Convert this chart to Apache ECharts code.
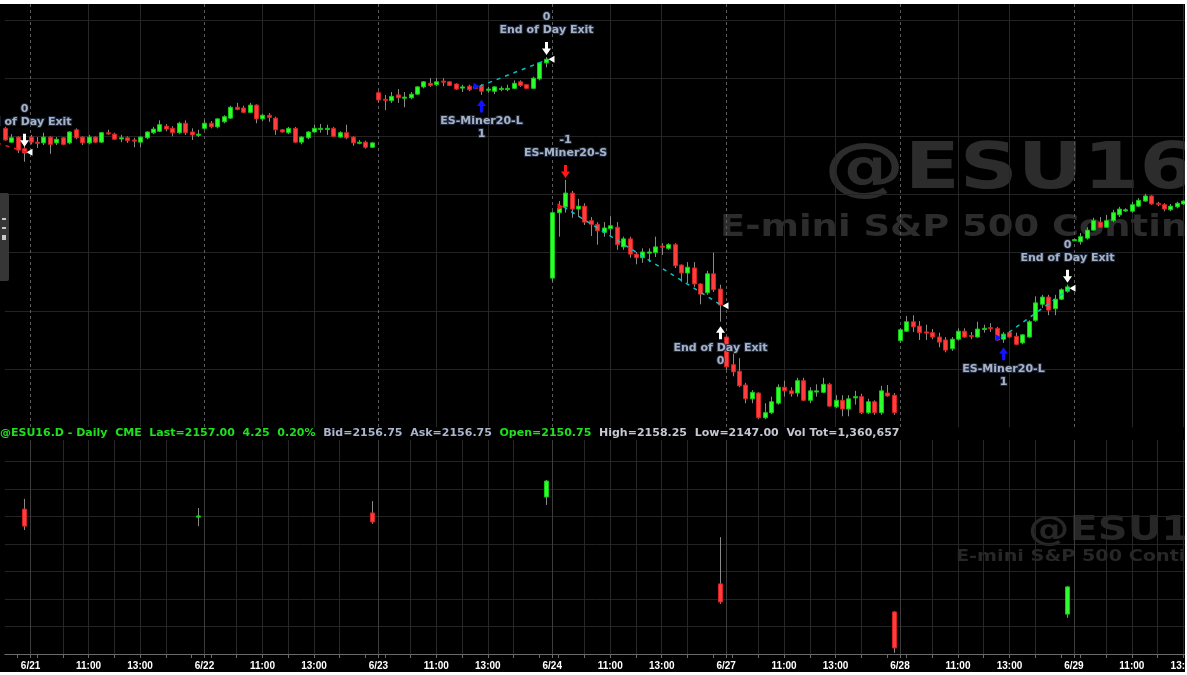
<!DOCTYPE html>
<html>
<head>
<meta charset="utf-8">
<script src="https://cdn.jsdelivr.net/npm/echarts@6/dist/echarts.min.js"></script>
<style>
html,body{margin:0;padding:0;background:#ffffff;}
#chart{width:1187px;height:675px;}
</style>
</head>
<body>
<div id="chart"></div>
<script>
// ---------- calendar / session ----------
const sessionTimes = ['8:45','9:00','9:15','9:30','9:45','10:00','10:15','10:30','10:45','11:00','11:15','11:30','11:45','12:00','12:15','12:30','12:45','13:00','13:15','13:30','13:45','14:00','14:15','14:30','14:45','15:00','15:15'];
const dayNames = ['6/20','6/21','6/22','6/23','6/24','6/27','6/28','6/29'];
const labelTimes = ['11:00','13:00'];
const tickTimes = ['9:00','10:00','11:00','12:00','13:00','14:00','15:00'];
const upperGridTimes = ['11:00','13:00'];
const lowerGridTimes = ['10:00','11:00','12:00','13:00','14:00'];

// ---------- @ESU16 15-minute bars: [open, close, low, high] ----------
const bars0620 = [
[2082.75,2078.75,2078.5,2083.25],[2078.0,2079.5,2077.75,2080.75],[2079.75,2075.25,2074.25,2080.0],[2075.75,2074.25,2071.25,2077.0]];
const bars0621 = [
[2079.75,2078.0,2077.25,2080.5],[2078.0,2077.75,2076.0,2079.75],[2077.75,2079.75,2077.0,2081.25],[2079.75,2077.25,2074.0,2080.0],
[2077.75,2079.0,2077.0,2079.75],[2079.5,2077.25,2077.0,2079.75],[2077.75,2081.5,2077.25,2081.75],[2082.25,2079.5,2079.0,2082.75],
[2079.75,2077.75,2077.0,2080.0],[2077.75,2079.75,2077.25,2080.5],[2079.75,2078.0,2077.75,2080.0],[2078.0,2081.25,2077.75,2081.5],
[2081.25,2081.0,2080.5,2082.25],[2080.75,2079.0,2078.75,2081.25],[2079.25,2079.5,2078.0,2080.5],[2079.5,2078.5,2077.75,2080.0],
[2078.75,2078.5,2076.25,2079.5],[2078.0,2079.75,2076.25,2080.0],[2079.5,2081.5,2079.0,2081.75],[2081.25,2082.5,2080.75,2083.25],
[2081.75,2084.0,2081.5,2085.5],[2083.5,2082.5,2081.75,2084.25],[2082.75,2081.25,2080.0,2083.5],[2081.25,2084.5,2080.75,2085.0],
[2084.5,2081.25,2080.5,2085.5],[2081.5,2080.5,2078.75,2082.75],[2080.5,2080.75,2079.75,2082.25]];
const bars0622 = [
[2082.75,2084.5,2082.25,2085.5],[2084.5,2083.25,2082.75,2085.25],[2083.25,2086.0,2082.75,2086.25],[2085.0,2086.75,2084.5,2087.25],
[2086.25,2090.0,2086.0,2090.5],[2090.0,2089.25,2089.0,2091.5],[2089.75,2088.25,2088.0,2090.5],[2088.25,2090.75,2088.0,2091.5],
[2090.75,2086.0,2084.5,2091.0],[2086.0,2087.25,2085.25,2087.75],[2087.25,2086.5,2085.0,2088.0],[2086.25,2082.25,2080.5,2086.75],
[2082.25,2081.5,2081.25,2082.5],[2081.25,2082.75,2080.75,2083.25],[2082.75,2078.0,2077.75,2083.25],[2078.0,2079.75,2077.25,2080.0],
[2079.5,2081.5,2079.0,2081.75],[2081.5,2082.75,2081.25,2084.0],[2082.5,2082.75,2081.25,2084.25],[2082.5,2082.75,2080.5,2084.0],
[2082.75,2080.0,2079.75,2083.25],[2079.75,2081.25,2079.5,2081.75],[2081.25,2079.5,2079.0,2084.0],[2079.75,2077.75,2076.75,2080.0],
[2077.75,2078.0,2077.25,2078.75],[2078.0,2076.25,2075.75,2078.5],[2076.25,2077.75,2076.0,2078.0]];
const bars0623 = [
[2095.0,2092.5,2091.75,2095.5],[2092.75,2092.5,2089.0,2094.25],[2092.25,2093.75,2091.5,2095.25],[2094.25,2093.25,2091.5,2096.25],
[2093.25,2093.5,2090.0,2095.25],[2093.25,2094.5,2092.75,2095.25],[2094.5,2097.0,2094.25,2097.25],[2097.0,2098.75,2096.5,2099.0],
[2098.25,2097.5,2097.0,2100.0],[2097.75,2098.75,2097.25,2100.0],[2099.0,2098.75,2097.25,2100.0],[2098.75,2097.5,2097.25,2099.0],
[2098.0,2096.25,2096.0,2098.25],[2096.75,2097.0,2095.25,2097.75],[2097.25,2096.0,2095.5,2097.75],[2097.25,2096.5,2096.25,2097.75],
[2097.25,2095.5,2094.25,2098.0],[2096.0,2096.25,2095.0,2097.0],[2095.5,2097.0,2094.5,2097.25],[2096.25,2096.5,2095.5,2097.25],
[2096.25,2096.5,2095.5,2097.75],[2096.5,2098.25,2096.25,2099.25],[2098.75,2097.5,2097.0,2099.25],[2097.75,2096.5,2096.25,2098.0],
[2096.5,2100.0,2096.25,2100.5],[2099.75,2105.25,2099.25,2105.5],[2105.25,2106.5,2103.75,2107.25]];
const bars0624 = [
[2031.25,2053.75,2030.0,2054.25],[2053.75,2055.25,2045.5,2057.75],[2055.75,2060.5,2053.75,2065.0],[2060.5,2055.0,2052.0,2061.25],
[2055.0,2056.0,2052.25,2058.5],[2056.0,2050.5,2049.5,2057.0],[2051.0,2049.75,2045.75,2052.25],[2049.75,2047.5,2042.75,2050.5],
[2047.0,2048.5,2045.5,2050.5],[2048.25,2049.25,2045.5,2052.5],[2048.75,2042.75,2041.0,2050.5],[2042.0,2044.75,2041.0,2045.5],
[2044.75,2039.5,2038.25,2045.5],[2039.5,2038.25,2036.0,2040.25],[2038.25,2040.25,2036.5,2041.5],[2040.0,2040.25,2036.75,2041.5],
[2040.0,2042.0,2038.5,2045.5],[2042.25,2042.0,2039.25,2043.25],[2041.5,2042.75,2041.0,2043.25],[2042.75,2035.5,2034.75,2043.25],
[2035.75,2033.0,2030.0,2036.0],[2033.0,2035.0,2029.5,2036.75],[2034.75,2029.25,2028.25,2036.75],[2029.25,2025.75,2022.25,2029.5],
[2026.25,2032.75,2025.5,2033.75],[2032.75,2027.25,2026.5,2040.0],[2027.5,2022.0,2016.25,2029.0]];
const bars0627 = [
[2011.0,2000.75,1999.75,2011.25],[2001.5,1999.0,1997.5,2005.5],[1999.25,1994.25,1993.75,2003.75],[1994.5,1989.75,1988.25,1995.25],
[1989.75,1992.0,1988.25,1992.75],[1991.75,1983.25,1982.75,1992.0],[1983.25,1985.0,1982.75,1988.25],[1985.0,1988.75,1984.5,1990.5],
[1988.25,1993.75,1987.75,1994.75],[1993.75,1992.5,1990.5,1996.0],[1992.5,1991.5,1990.5,1993.75],[1991.75,1996.0,1990.5,1997.0],
[1996.0,1989.25,1989.0,1997.0],[1989.25,1992.5,1988.25,1993.75],[1992.25,1992.5,1990.5,1994.75],[1992.0,1994.75,1991.75,1997.0],
[1994.75,1987.25,1987.0,1995.25],[1987.0,1989.25,1986.5,1991.0],[1989.25,1986.25,1983.75,1991.0],[1986.25,1989.75,1983.75,1991.0],
[1990.25,1990.5,1987.75,1992.5],[1990.5,1985.0,1984.5,1991.5],[1985.0,1988.75,1984.5,1989.75],[1988.75,1985.0,1984.25,1989.25],
[1985.0,1992.5,1984.25,1994.25],[1991.75,1990.75,1990.5,1994.5],[1991.0,1985.0,1984.25,1991.75]];
const bars0628 = [
[2009.75,2013.5,2009.0,2014.0],[2013.0,2016.25,2012.75,2018.25],[2016.25,2014.5,2012.75,2018.5],[2014.75,2012.5,2010.0,2016.5],
[2012.75,2012.5,2010.0,2015.25],[2012.5,2011.0,2010.25,2013.75],[2011.0,2009.25,2007.5,2012.5],[2010.0,2006.5,2005.75,2011.0],
[2007.0,2010.25,2006.25,2011.0],[2010.25,2013.0,2009.75,2014.0],[2013.0,2011.0,2010.75,2014.0],[2011.5,2011.25,2010.25,2012.75],
[2011.0,2013.75,2010.75,2016.25],[2013.75,2014.0,2012.5,2015.25],[2014.25,2014.0,2012.75,2015.75],[2014.0,2010.0,2009.75,2014.5],
[2010.25,2012.0,2009.0,2012.75],[2012.5,2011.0,2010.75,2013.0],[2011.25,2008.5,2008.25,2012.5],[2009.0,2011.75,2008.5,2012.0],
[2011.0,2016.25,2010.75,2016.75],[2016.75,2022.75,2016.25,2025.0],[2022.25,2024.75,2021.0,2025.5],[2024.75,2020.25,2018.5,2025.5],
[2020.75,2024.0,2018.5,2025.5],[2024.0,2027.25,2023.75,2027.75],[2026.75,2028.25,2026.25,2029.0]];
const bars0629 = [
[2044.25,2044.5,2044.0,2044.75],[2043.75,2045.5,2042.75,2046.75],[2045.0,2047.75,2044.5,2048.75],[2047.75,2051.0,2047.5,2052.0],
[2050.5,2048.75,2048.5,2052.25],[2048.75,2051.0,2048.5,2053.0],[2051.0,2053.75,2050.5,2054.75],[2053.0,2055.0,2052.25,2055.75],
[2054.5,2054.75,2054.0,2055.25],[2054.25,2056.5,2053.75,2057.5],[2056.0,2058.0,2055.75,2058.75],[2057.75,2059.5,2057.5,2060.25],
[2059.5,2056.75,2056.5,2059.75],[2057.0,2056.75,2056.0,2057.5],[2056.5,2055.0,2054.25,2057.0],[2054.75,2056.0,2054.25,2056.75],
[2055.75,2057.0,2055.25,2057.5],[2056.75,2057.75,2056.5,2058.0]];
const intradayBars = [bars0620, bars0621, bars0622, bars0623, bars0624, bars0627, bars0628, bars0629];

// ---------- @ESU16.D daily bars (lower pane): [open, close, low, high] ----------
const dailyDates = ['6/20','6/21','6/22','6/23','6/24','6/27','6/28'];
const dailyBars = [
[2081.75,2066.25,2062.75,2091.0],[2075.25,2075.5,2066.25,2082.75],[2078.25,2070.0,2068.25,2089.0],
[2092.75,2107.25,2085.5,2108.25],[2013.75,1997.25,1995.5,2056.25],[1988.25,1955.5,1951.0,1989.0],
[1986.25,2011.0,1982.75,2011.75]];

// ---------- strategy signals ----------
const signalBars = [['6/20','15:15'],['6/23','12:45'],['6/23','15:15'],['6/24','9:15'],['6/24','15:15'],['6/28','12:45'],['6/28','15:15']];
const signalKinds = ['sellExit','longEntry','sellExit','shortEntry','buyExit','longEntry','sellExit'];
const signalNames = ['End of Day Exit','ES-Miner20-L','End of Day Exit','ES-Miner20-S','End of Day Exit','ES-Miner20-L','End of Day Exit'];
const signalPositions = ['0','1','0','-1','0','1','0'];
const signalPrices = [2074.5, 2097.25, 2106.5, 2055.75, 2021.75, 2010.75, 2027.75];
// trades: [entry day, entry time, entry price, exit day, exit time, exit price, result]
const trades = [
['6/20','14:15',2077.75,'6/20','15:15',2074.5,'loss'],
['6/23','12:45',2097.25,'6/23','15:15',2106.5,'win'],
['6/24','9:15',2055.75,'6/24','15:15',2021.75,'win'],
['6/28','12:45',2010.75,'6/28','15:15',2027.75,'win']];

// ---------- texts ----------
const statusParts = [['@ESU16.D - Daily','g'],['CME','g'],['Last=2157.00','g'],['4.25','g'],['0.20%','g'],
['Bid=2156.75','b'],['Ask=2156.75','b'],['Open=2150.75','g'],['High=2158.25','w'],['Low=2147.00','w'],['Vol Tot=1,360,657','w']];
const watermarkSymbol = '@ESU16';
const watermarkName = 'E-mini S&P 500 Continuous Contract';

// ---------- build categories ----------
const cats = [], slotOf = [], dayStart = [], dayFirstSlot = [], ohlcAt = [];
const candleData = [];
dayNames.forEach((d, di) => {
  const bars = intradayBars[di];
  const first = di === 0 ? sessionTimes.length - bars.length : 0;
  const last = di === dayNames.length - 1 ? bars.length : sessionTimes.length - 1;
  dayStart.push(cats.length); dayFirstSlot.push(first);
  for (let s = first; s <= last; s++) {
    const idx = cats.length;
    cats.push(d + ' ' + sessionTimes[s]); slotOf.push(s);
    const b = bars[s - first];
    ohlcAt.push(b || null);
    if (b) candleData.push([idx, b[0], b[1], b[2], b[3]]);
  }
});
function barIndex(day, time) {
  const di = dayNames.indexOf(day);
  return dayStart[di] + sessionTimes.indexOf(time) - dayFirstSlot[di];
}
const slotSet = arr => arr.map(t => sessionTimes.indexOf(t));
const labelSlots = slotSet(labelTimes), tickSlots = [0].concat(slotSet(tickTimes));
const upperSlots = slotSet(upperGridTimes), lowerSlots = slotSet(lowerGridTimes);

const dailyData = dailyDates.map((d, k) => {
  const idx = barIndex(d, sessionTimes[sessionTimes.length - 1]);
  const b = dailyBars[k];
  return [idx, b[0], b[1], b[2], b[3]];
});

const kindCodes = ['longEntry','shortEntry','sellExit','buyExit'];
const signalData = signalBars.map((sb, k) => {
  const idx = barIndex(sb[0], sb[1]);
  const code = kindCodes.indexOf(signalKinds[k]);
  const above = code === 1 || code === 2;
  const b = ohlcAt[idx];
  return [idx, signalPrices[k], above ? b[3] : b[2], code];
});
const tradeData = trades.map(t => [barIndex(t[0], t[1]), t[2], barIndex(t[3], t[4]), t[5], t[6] === 'win' ? 1 : 0]);

// ---------- renderers ----------
function renderCandle(params, api) {
  const i = api.value(0);
  const o = api.value(1), c = api.value(2), l = api.value(3), h = api.value(4);
  const po = api.coord([i, o]), pc = api.coord([i, c]), pl = api.coord([i, l]), ph = api.coord([i, h]);
  const x = Math.round(po[0]);
  const up = c >= o;
  const top = Math.min(po[1], pc[1]);
  const hgt = Math.max(Math.abs(po[1] - pc[1]), 1.2);
  return {type: 'group', children: [
    {type: 'line', shape: {x1: x + 0.5, y1: ph[1], x2: x + 0.5, y2: pl[1]}, style: {stroke: '#8a8a8a', lineWidth: 1}},
    {type: 'rect', shape: {x: x - 1.5, y: top, width: 4, height: hgt},
     style: {fill: up ? '#2cff2c' : '#ff3d3d', stroke: up ? '#12c812' : '#d42020', lineWidth: 1}}
  ]};
}
const labelFont = 'bold 11px "DejaVu Sans"';
function renderSignal(params, api) {
  const k = params.dataIndex;
  const bar = api.value(0), fill = api.value(1), ext = api.value(2), code = api.value(3);
  const pf = api.coord([bar, fill]), pe = api.coord([bar, ext]);
  const x = Math.round(pf[0]) + 0.5;
  const above = code === 1 || code === 2;
  const entry = code === 0 || code === 1;
  const color = code === 0 ? '#1212ff' : code === 1 ? '#ff1818' : '#ffffff';
  let cy = above ? pe[1] - 8.5 : pe[1] + 11;
  if (code === 2) cy = Math.max(cy, pf[1] - 12);
  const d = above ? 1 : -1;
  const arrow = [[-1.5, -6.5 * d], [1.5, -6.5 * d], [1.5, 0], [4.5, 0], [0, 6.5 * d], [-4.5, 0], [-1.5, 0]]
    .map(p => [x + p[0], cy + p[1]]);
  const tri = entry
    ? [[x - 8, pf[1] - 3.5], [x - 2, pf[1]], [x - 8, pf[1] + 3.5]]
    : [[x + 8, pf[1] - 3.5], [x + 2, pf[1]], [x + 8, pf[1] + 3.5]];
  const nameY = above ? cy - 18.5 : cy + 15;
  const posY = above ? cy - 31.5 : cy + 28;
  const txt = (t, y) => ({type: 'text', style: {text: t, x: x, y: y, align: 'center', verticalAlign: 'middle',
    font: labelFont, fill: '#a9b2c1', stroke: '#1c2840', lineWidth: 2}});
  return {type: 'group', children: [
    {type: 'polygon', shape: {points: arrow}, style: {fill: color}},
    {type: 'polygon', shape: {points: tri}, style: {fill: entry ? color : '#ffffff'}},
    txt(signalNames[k], nameY), txt(signalPositions[k], posY)
  ]};
}
function renderTrade(params, api) {
  const a = api.coord([api.value(0), api.value(1)]);
  const b = api.coord([api.value(2), api.value(3)]);
  const win = api.value(4) === 1;
  return {type: 'line', shape: {x1: a[0] - 1.5, y1: a[1], x2: b[0] + 2.5, y2: b[1]},
    style: {stroke: win ? '#00c4c4' : '#e02020', lineWidth: 1.5, lineDash: [4, 5]}};
}

// ---------- layout ----------
const slotPx = 6.44;
const plotLeft = 4.84;
const plotWidth = slotPx * (cats.length - 1);

const hiddenCat = (gridIndex, extra) => Object.assign({
  type: 'category', gridIndex: gridIndex, data: cats, boundaryGap: false,
  axisLine: {show: false}, axisTick: {show: false}, axisLabel: {show: false}
}, extra);

const chart = echarts.init(document.getElementById('chart'), null, {renderer: 'canvas'});

const statusText = statusParts.map(p => '{' + p[1] + '|' + p[0] + '}').join('  ');
const richBase = {fontSize: 11, fontWeight: 'bold', fontFamily: 'DejaVu Sans'};

const option = {
  backgroundColor: '#ffffff',
  animation: false,
  grid: [
    {left: plotLeft, top: 4, width: plotWidth, height: 423.2, outerBoundsMode: 'none', containLabel: false},
    {left: plotLeft, top: 440, width: plotWidth, height: 214, outerBoundsMode: 'none', containLabel: false}
  ],
  xAxis: [
    hiddenCat(0, {splitLine: {show: true, interval: i => upperSlots.indexOf(slotOf[i]) >= 0, lineStyle: {color: '#272727', width: 1}}}),
    hiddenCat(0, {splitLine: {show: true, interval: i => slotOf[i] === 0, lineStyle: {color: '#5c5c5c', width: 1, type: [3, 3]}}}),
    {
      type: 'category', gridIndex: 1, data: cats, boundaryGap: false,
      axisLine: {show: true, lineStyle: {color: '#6a6a6a', width: 1}},
      axisTick: {show: true, interval: i => tickSlots.indexOf(slotOf[i]) >= 0, length: 4, lineStyle: {color: '#6a6a6a'}},
      axisLabel: {
        show: true, interval: i => slotOf[i] === 0 || labelSlots.indexOf(slotOf[i]) >= 0,
        formatter: (v, i) => slotOf[i] === 0 ? v.split(' ')[0] : v.split(' ')[1],
        color: '#ffffff', fontFamily: 'Liberation Sans', fontWeight: 'bold', fontSize: 10, margin: 7, hideOverlap: false
      },
      splitLine: {show: true, interval: i => lowerSlots.indexOf(slotOf[i]) >= 0, lineStyle: {color: '#272727', width: 1}}
    },
    hiddenCat(1, {splitLine: {show: true, interval: i => slotOf[i] === 0, lineStyle: {color: '#3c3c3c', width: 1}}})
  ],
  yAxis: [
    {type: 'value', gridIndex: 0, min: 1980, max: 2125.5, interval: 20, scale: true,
     axisLine: {show: false}, axisTick: {show: false}, axisLabel: {show: false},
     splitLine: {show: true, showMinLine: false, showMaxLine: false, lineStyle: {color: '#232323'}}},
    {type: 'value', gridIndex: 1, min: 1950, max: 2144.55, interval: 25, scale: true,
     axisLine: {show: false}, axisTick: {show: false}, axisLabel: {show: false},
     splitLine: {show: true, showMinLine: false, showMaxLine: false, lineStyle: {color: '#232323'}}}
  ],
  series: [
    {type: 'custom', name: '@ESU16 15 min', xAxisIndex: 0, yAxisIndex: 0, data: candleData,
     encode: {x: 0, y: [1, 2, 3, 4]}, renderItem: renderCandle, z: 3, silent: true},
    {type: 'custom', name: 'trades', xAxisIndex: 0, yAxisIndex: 0, data: tradeData,
     encode: {x: [0, 2], y: [1, 3]}, renderItem: renderTrade, z: 4, silent: true},
    {type: 'custom', name: 'signals', xAxisIndex: 0, yAxisIndex: 0, data: signalData,
     encode: {x: 0, y: [1, 2]}, renderItem: renderSignal, z: 5, silent: true},
    {type: 'custom', name: '@ESU16.D daily', xAxisIndex: 2, yAxisIndex: 1, data: dailyData,
     encode: {x: 0, y: [1, 2, 3, 4]}, renderItem: renderCandle, z: 3, silent: true}
  ],
  graphic: [
    {type: 'rect', silent: true, z: -100, shape: {x: 0, y: 4, width: 1185, height: 668}, style: {fill: '#000000'}},
    {type: 'text', silent: true, z: -50, x: 824, y: 171, scaleX: 1.26,
     style: {text: watermarkSymbol, font: 'bold 64px "DejaVu Sans"', fill: '#2c2c2c', align: 'left', verticalAlign: 'middle'}},
    {type: 'text', silent: true, z: -50, x: 720, y: 228, scaleX: 1.23,
     style: {text: watermarkName, font: 'bold 30px "DejaVu Sans"', fill: '#2c2c2c', align: 'left', verticalAlign: 'middle'}},
    {type: 'text', silent: true, z: -50, x: 1028, y: 531, scaleX: 1.22,
     style: {text: watermarkSymbol, font: 'bold 34px "DejaVu Sans"', fill: '#272727', align: 'left', verticalAlign: 'middle'}},
    {type: 'text', silent: true, z: -50, x: 956, y: 557, scaleX: 1.2,
     style: {text: watermarkName, font: 'bold 16px "DejaVu Sans"', fill: '#272727', align: 'left', verticalAlign: 'middle'}},
    {type: 'text', silent: true, z: 10, x: 0, y: 433,
     style: {text: statusText, font: 'bold 11px "DejaVu Sans"', fill: '#1fe01f', align: 'left', verticalAlign: 'middle',
       rich: {g: Object.assign({fill: '#1fe01f'}, richBase), b: Object.assign({fill: '#aab4cc'}, richBase), w: Object.assign({fill: '#c4c8d2'}, richBase)}}},
    {type: 'rect', silent: true, z: 10, shape: {x: 0, y: 193, width: 9, height: 88, r: [0, 2, 2, 0]}, style: {fill: '#363636'}},
    {type: 'rect', silent: true, z: 11, shape: {x: 2, y: 218, width: 4, height: 2}, style: {fill: '#c8c8c8'}},
    {type: 'rect', silent: true, z: 11, shape: {x: 2, y: 227, width: 4, height: 2}, style: {fill: '#c8c8c8'}},
    {type: 'rect', silent: true, z: 11, shape: {x: 2, y: 235, width: 4, height: 5}, style: {fill: '#c8c8c8'}},
    {type: 'rect', silent: true, z: 100, shape: {x: 0, y: 0, width: 1187, height: 4}, style: {fill: '#ffffff'}},
    {type: 'rect', silent: true, z: 100, shape: {x: 1185, y: 0, width: 2, height: 675}, style: {fill: '#ffffff'}},
    {type: 'rect', silent: true, z: 100, shape: {x: 0, y: 672, width: 1187, height: 3}, style: {fill: '#ffffff'}}
  ]
};
chart.setOption(option);
</script>
</body>
</html>
